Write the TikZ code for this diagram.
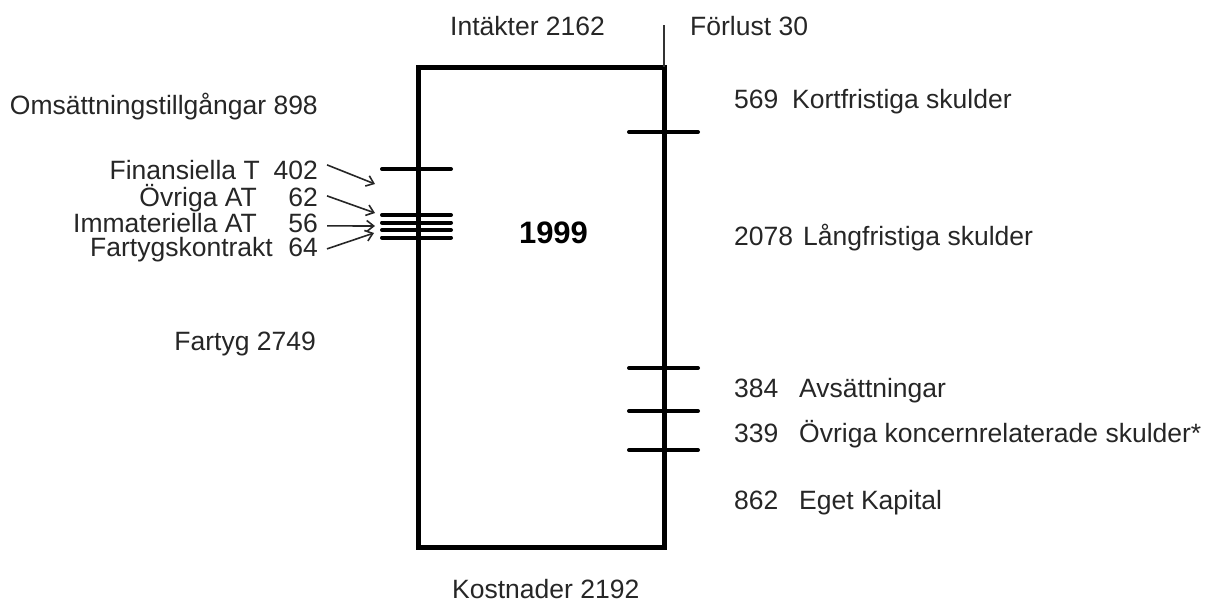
\documentclass[tikz,border=0pt]{standalone}
\usepackage{fontspec}
\setmainfont{Liberation Sans}
\usetikzlibrary{arrows.meta}
\begin{document}
\begin{tikzpicture}[x=1pt,y=-1pt,
  lbl/.style={font=\fontsize{26.5}{30}\selectfont, inner sep=0pt, text=black!85},
  thick box/.style={line width=5pt},
  tick/.style={line width=4pt, line cap=round},
  arr/.style={line width=1.6pt, -{Straight Barb[length=7pt,width=11pt]}, black!85},
  thinline/.style={line width=1.6pt, black!80}]
\useasboundingbox (0,0) rectangle (1206,603);
% main box
\draw[thick box] (418,547) -- (418,67) -- (664,67) -- (664,547) -- cycle;
\draw[thinline] (664,25) -- (664,67);
% right ticks
\foreach \yy in {132,368,411,450} \draw[tick] (629,\yy) -- (698,\yy);
% left ticks
\foreach \yy in {169,215,222.5,230,237.5} \draw[tick] (382,\yy) -- (451,\yy);
% top / bottom labels
\node[lbl, anchor=base west] (intakt) at (450,35) {Intäkter 2162};
\node[lbl, anchor=base west] (forlust) at (690,35) {Förlust 30};
\node[lbl, anchor=base west] (kostn) at (452,598) {Kostnader 2192};
\node[font=\bfseries\fontsize{31}{34}\selectfont, inner sep=0pt, anchor=base] (year) at (553.5,243) {1999};
% left labels
\node[lbl, anchor=base east] (oms) at (318,114) {Omsättningstillgångar 898};
\node[lbl, anchor=base east] (fin) at (260,179) {Finansiella T};
\node[lbl, anchor=base east] (n402) at (318,179) {402};
\node[lbl, anchor=base east] (ovr) at (257,206) {Övriga AT};
\node[lbl, anchor=base east] (n62) at (318,206) {62};
\node[lbl, anchor=base east] (imm) at (257,232) {Immateriella AT};
\node[lbl, anchor=base east] (n56) at (318,232) {56};
\node[lbl, anchor=base east] (fk) at (273,256) {Fartygskontrakt};
\node[lbl, anchor=base east] (n64) at (318,256) {64};
\node[lbl, anchor=base east] (fartyg) at (316,350) {Fartyg 2749};
% arrow targets
\coordinate (a1) at (375,184);
\coordinate (a2) at (375,213);
\coordinate (a3) at (375,226);
\coordinate (a4) at (374,233);
\draw[arr] ([xshift=9pt,yshift=5pt]n402.east) -- (a1);
\draw[arr] ([xshift=9pt,yshift=1pt]n62.east) -- (a2);
\draw[arr] ([xshift=9pt,yshift=-3pt]n56.east) -- (a3);
\draw[arr] ([xshift=9pt,yshift=-2pt]n64.east) -- (a4);
% right labels
\node[lbl, anchor=base west] (r569) at (734,108) {569};
\node[lbl, anchor=base west] (kort) at (792,108) {Kortfristiga skulder};
\node[lbl, anchor=base west] (r2078) at (734,245) {2078};
\node[lbl, anchor=base west] (lang) at (803,245) {Långfristiga skulder};
\node[lbl, anchor=base west] (r384) at (734,397) {384};
\node[lbl, anchor=base west] (avs) at (799,397) {Avsättningar};
\node[lbl, anchor=base west] (r339) at (734,442) {339};
\node[lbl, anchor=base west] (ovrk) at (799,442) {Övriga koncernrelaterade skulder*};
\node[lbl, anchor=base west] (r862) at (734,509) {862};
\node[lbl, anchor=base west] (eget) at (799,509) {Eget Kapital};
\end{tikzpicture}
\end{document}
